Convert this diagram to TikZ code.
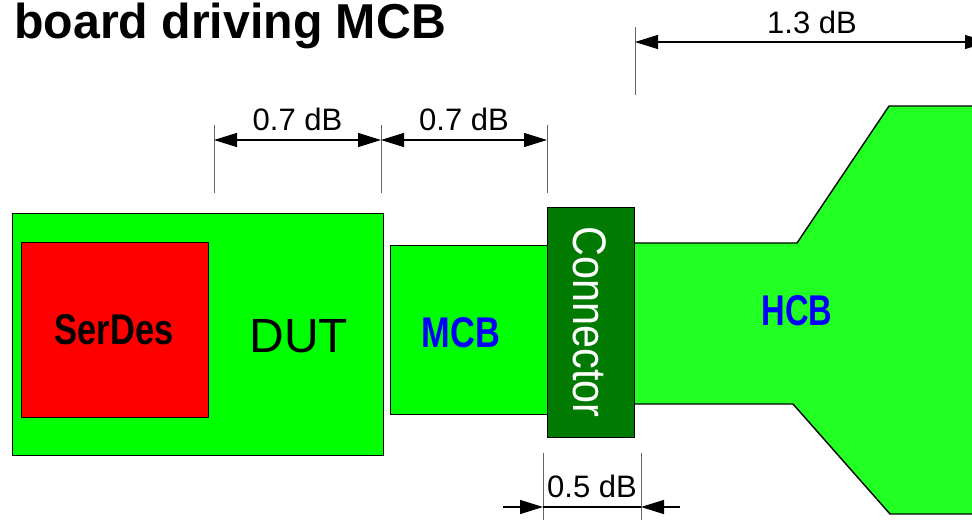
\documentclass[tikz,border=0pt]{standalone}
\usepackage{fontspec}
\setmainfont{Liberation Sans}
\usepackage{xcolor}
\definecolor{pcbgreen}{RGB}{0,255,0}
\definecolor{hcbgreen}{RGB}{34,255,34}
\definecolor{conngreen}{RGB}{0,122,0}
\definecolor{serdesred}{RGB}{255,0,0}
\definecolor{extgray}{RGB}{100,100,100}
\usetikzlibrary{arrows.meta,positioning}

\begin{document}
\begin{tikzpicture}[x=1pt,y=-1pt,
  board/.style={draw=black,line width=1.4pt,inner sep=0pt,anchor=north west},
  boardlabel/.style={anchor=base,inner sep=0pt,text=blue,font=\bfseries\fontsize{43}{45}\selectfont},
  extline/.style={draw=extgray,line width=0.9pt},
  dimarrow/.style={line width=1.2pt,{Triangle[length=23pt,width=14pt]}-{Triangle[length=23pt,width=14pt]}},
  dimtip/.style={line width=1.2pt,-{Triangle[length=23pt,width=14pt]}},
  dimlabel/.style={anchor=base,inner sep=0pt,font=\fontsize{31}{33}\selectfont}]
  \useasboundingbox (0,0) rectangle (972,520);

  % Title
  \node[anchor=base west,inner sep=0pt,font=\bfseries\fontsize{49}{52}\selectfont] (title) at (14,38)
    {\scalebox{0.985}[1]{board driving MCB}};

  % DUT with SerDes
  \node[board,fill=pcbgreen,minimum width=371pt,minimum height=242pt] (dut) at (12,213) {};
  \node[board,fill=serdesred,minimum width=187pt,minimum height=175pt] (serdes) at (21,242) {};
  \node[anchor=base,inner sep=0pt,font=\bfseries\fontsize{43}{45}\selectfont] (serdeslbl) at (114,344)
    {\scalebox{0.8}[1]{SerDes}};
  \node[anchor=base,inner sep=0pt,font=\fontsize{48}{50}\selectfont] (dutlbl) at (299,352) {DUT};

  % MCB
  \node[board,fill=pcbgreen,minimum width=160pt,minimum height=169pt] (mcb) at (390,245) {};
  \node[boardlabel] (mcblbl) at (461,347) {\scalebox{0.8}[1]{MCB}};

  % HCB
  \draw[fill=hcbgreen,line width=1.4pt] (630,243) -- (797,243) -- (889,106) -- (990,106)
    -- (990,514) -- (890,514) -- (793,404) -- (630,404);
  \node[boardlabel] (hcblbl) at (797,325) {\scalebox{0.76}[1]{HCB}};

  % Connector
  \node[board,fill=conngreen,minimum width=87pt,minimum height=230pt] (conn) at (547,207) {};
  \node[anchor=base,inner sep=0pt,rotate=-90,text=white,font=\fontsize{47}{49}\selectfont] (connlbl)
    at (573,322) {\scalebox{0.88}[1]{Connector}};

  % Dimension lines
  \foreach \xa/\xb [count=\i] in {214/381, 381/547} {
    \coordinate (dl\i) at (\xa,140);
    \coordinate (dr\i) at (\xb,140);
    \draw[extline] (\xa,125) -- (\xa,193);
    \draw[extline] (\xb,125) -- (\xb,193);
    \draw[dimarrow] (dl\i) -- (dr\i);
    \node[dimlabel] (db\i) at ({(\xa+\xb)/2},130) {0.7 dB};
  }

  \coordinate (hl) at (635,42);
  \coordinate (hr) at (988,42);
  \draw[extline] (635,27) -- (635,95);
  \draw[dimarrow] (hl) -- (hr);
  \node[dimlabel] (db3) at (812,33) {1.3 dB};

  \coordinate (cl) at (543,507);
  \coordinate (cr) at (641,507);
  \coordinate (clo) at (503,507);
  \coordinate (cro) at (680,507);
  \draw[extline] (543,453) -- (543,520);
  \draw[extline] (641,453) -- (641,520);
  \draw[line width=1.2pt] (cl) -- (cr);
  \draw[dimtip] (clo) -- (cl);
  \draw[dimtip] (cro) -- (cr);
  \node[dimlabel] (db4) at (592,497) {0.5 dB};
\end{tikzpicture}
\end{document}
